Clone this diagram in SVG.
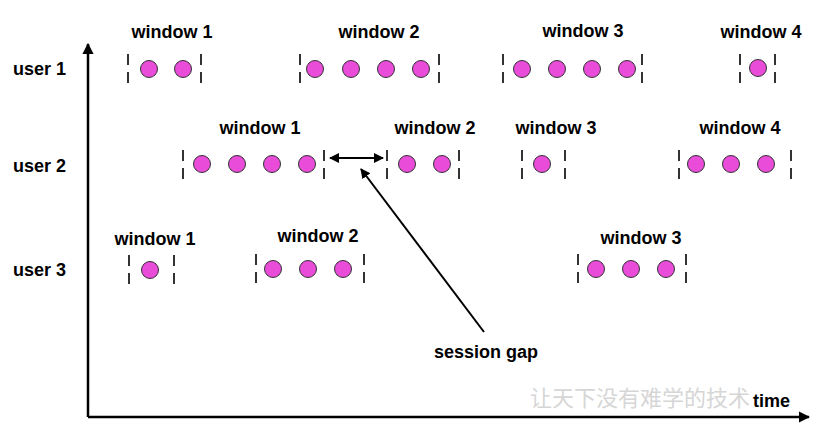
<svg xmlns="http://www.w3.org/2000/svg" width="814" height="427" viewBox="0 0 814 427">
<defs>
<style>
.t{font-family:"Liberation Sans",Arial,sans-serif;font-weight:bold;font-size:18px;fill:#000;text-anchor:middle}
.u{font-family:"Liberation Sans",Arial,sans-serif;font-weight:bold;font-size:18px;fill:#000}
.d{fill:#e94cd8;stroke:#333;stroke-width:1}
.b{stroke:#333;stroke-width:2;stroke-dasharray:11 7}
.ax{stroke:#000;stroke-width:2.5;fill:none}
.ar{stroke:#000;stroke-width:2;fill:none}
.wm{font-family:"Noto Sans CJK SC",sans-serif;font-size:22px;fill:#d6d6d6}
</style>
<marker id="ah" viewBox="0 0 10 10" refX="9" refY="5" markerWidth="5" markerHeight="5" orient="auto-start-reverse" markerUnits="strokeWidth">
<path d="M0,0 L10,5 L0,10 z" fill="#000"/>
</marker>
<marker id="ah2" viewBox="0 0 10 10" refX="9" refY="5" markerWidth="4.5" markerHeight="4.5" orient="auto-start-reverse" markerUnits="strokeWidth">
<path d="M0,0 L10,5 L0,10 z" fill="#000"/>
</marker>
</defs>
<rect width="814" height="427" fill="#fff"/>
<text class="wm" x="530" y="406">让天下没有难学的技术</text>
<g id="axes">
<line class="ax" x1="88" y1="417" x2="88" y2="44" marker-end="url(#ah2)"/>
<line class="ax" x1="88" y1="417" x2="809" y2="417" marker-end="url(#ah2)"/>
<text class="u" x="753" y="407">time</text>
</g>
<g id="labels">
<text class="u" x="13" y="75">user 1</text>
<text class="u" x="13" y="172">user 2</text>
<text class="u" x="13" y="276">user 3</text>
</g>
<g id="u1w1"><text class="t" x="172" y="38">window 1</text>
<line class="b" x1="128" y1="54" x2="128" y2="83"/><line class="b" x1="201" y1="54" x2="201" y2="83"/>
<circle class="d" cx="149" cy="69" r="8.5"/><circle class="d" cx="183" cy="69" r="8.5"/></g>
<g id="u1w2"><text class="t" x="379" y="38">window 2</text>
<line class="b" x1="300" y1="54" x2="300" y2="83"/><line class="b" x1="439" y1="54" x2="439" y2="83"/>
<circle class="d" cx="315" cy="69" r="8.5"/><circle class="d" cx="351" cy="69" r="8.5"/><circle class="d" cx="386" cy="69" r="8.5"/><circle class="d" cx="421" cy="69" r="8.5"/></g>
<g id="u1w3"><text class="t" x="583" y="37">window 3</text>
<line class="b" x1="503" y1="54" x2="503" y2="83"/><line class="b" x1="642" y1="54" x2="642" y2="83"/>
<circle class="d" cx="522" cy="69" r="8.5"/><circle class="d" cx="557" cy="69" r="8.5"/><circle class="d" cx="592" cy="69" r="8.5"/><circle class="d" cx="627" cy="69" r="8.5"/></g>
<g id="u1w4"><text class="t" x="761" y="38">window 4</text>
<line class="b" x1="740" y1="54" x2="740" y2="83"/><line class="b" x1="775" y1="54" x2="775" y2="83"/>
<circle class="d" cx="758" cy="68" r="8.5"/></g>
<g id="u2w1"><text class="t" x="260" y="134">window 1</text>
<line class="b" x1="183" y1="150" x2="183" y2="179"/><line class="b" x1="324" y1="150" x2="324" y2="179"/>
<circle class="d" cx="202" cy="164" r="8.5"/><circle class="d" cx="237" cy="164" r="8.5"/><circle class="d" cx="272" cy="164" r="8.5"/><circle class="d" cx="307" cy="164" r="8.5"/></g>
<g id="u2w2"><text class="t" x="435" y="134">window 2</text>
<line class="b" x1="387" y1="150" x2="387" y2="179"/><line class="b" x1="459" y1="150" x2="459" y2="179"/>
<circle class="d" cx="407" cy="164" r="8.5"/><circle class="d" cx="442" cy="164" r="8.5"/></g>
<g id="u2w3"><text class="t" x="556" y="134">window 3</text>
<line class="b" x1="522" y1="150" x2="522" y2="179"/><line class="b" x1="565" y1="150" x2="565" y2="179"/>
<circle class="d" cx="542" cy="164" r="8.5"/></g>
<g id="u2w4"><text class="t" x="740" y="134">window 4</text>
<line class="b" x1="679" y1="150" x2="679" y2="179"/><line class="b" x1="791" y1="150" x2="791" y2="179"/>
<circle class="d" cx="696" cy="164" r="8.5"/><circle class="d" cx="731" cy="164" r="8.5"/><circle class="d" cx="766" cy="164" r="8.5"/></g>
<g id="u3w1"><text class="t" x="155" y="245">window 1</text>
<line class="b" x1="129" y1="255" x2="129" y2="284"/><line class="b" x1="174" y1="255" x2="174" y2="284"/>
<circle class="d" cx="150" cy="270" r="8.5"/></g>
<g id="u3w2"><text class="t" x="318" y="242">window 2</text>
<line class="b" x1="256" y1="254" x2="256" y2="283"/><line class="b" x1="364" y1="254" x2="364" y2="283"/>
<circle class="d" cx="273" cy="269" r="8.5"/><circle class="d" cx="308" cy="269" r="8.5"/><circle class="d" cx="343" cy="269" r="8.5"/></g>
<g id="u3w3"><text class="t" x="641" y="244">window 3</text>
<line class="b" x1="578" y1="254" x2="578" y2="283"/><line class="b" x1="686" y1="254" x2="686" y2="283"/>
<circle class="d" cx="596" cy="269" r="8.5"/><circle class="d" cx="631" cy="269" r="8.5"/><circle class="d" cx="666" cy="269" r="8.5"/></g>
<g id="connectors">
<line class="ar" x1="330" y1="158" x2="383" y2="158" marker-start="url(#ah)" marker-end="url(#ah)"/>
<line class="ar" x1="484" y1="332" x2="361" y2="169" marker-end="url(#ah)"/>
</g>
<g id="session-gap"><text class="t" x="486" y="358">session gap</text></g>
</svg>
